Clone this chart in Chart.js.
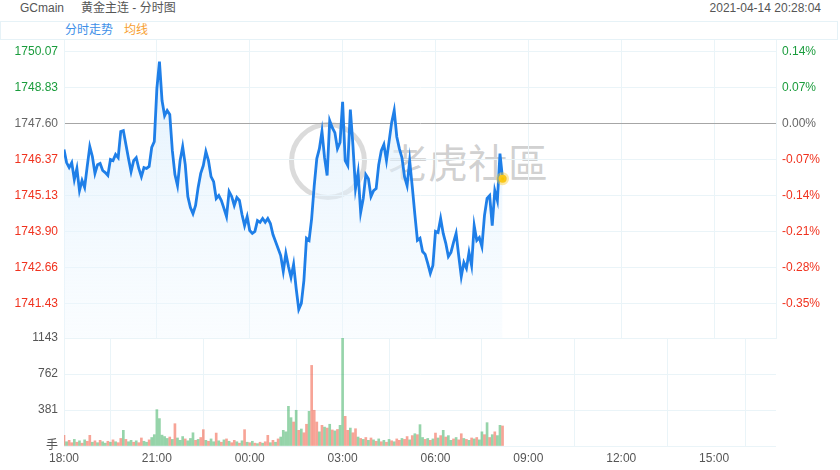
<!DOCTYPE html>
<html lang="zh">
<head>
<meta charset="UTF-8">
<title>GCmain 分时图</title>
<script src="https://cdn.jsdelivr.net/npm/chart.js@4"></script>
<style>
    body {
        margin: 0;
        background: #fff;
        font-family: 'Liberation Sans', 'Noto Sans CJK SC', sans-serif;
    }

    #wrap {
        position: relative;
        width: 840px;
        height: 470px;
        overflow: hidden;
    }

    .txt {
        position: absolute;
        font-size: 12px;
        color: #555;
        white-space: nowrap;
        line-height: 14px;
    }

    #tabs {
        position: absolute;
        left: 0;
        top: 21px;
        width: 836px;
        height: 17px;
        border: 1px solid #e6f2f7;
    }

    #logo {
        position: absolute;
        left: 289px;
        top: 122px;
        width: 68px;
        height: 68px;
        border: 5px solid rgba(170, 170, 170, 0.42);
        border-radius: 50%;
    }

    #wm {
        position: absolute;
        left: 388px;
        top: 141px;
        font-size: 40px;
        line-height: 40px;
        color: rgba(150, 150, 150, 0.45);
        font-family: 'Noto Sans CJK TC', 'Noto Sans CJK SC', sans-serif;
        white-space: nowrap;
    }

    canvas {
        position: absolute;
        left: 0;
        top: 0;
    }
</style>
</head>
<body>
<div id="wrap">
    <div id="logo"></div>
    <div id="wm">老虎社區</div>
    <div class="txt" style="left:20px;top:1px;">GCmain</div>
    <div class="txt" style="left:81px;top:1px;">黄金主连 - 分时图</div>
    <div class="txt" style="right:19px;top:1px;">2021-04-14 20:28:04</div>
    <div id="tabs"></div>
    <div class="txt" style="left:65px;top:23px;color:#3d8fe8;">分时走势</div>
    <div class="txt" style="left:124px;top:23px;color:#f7a030;">均线</div>
    <canvas id="priceChart" width="840" height="470"></canvas>
    <canvas id="volChart" width="840" height="470"></canvas>
</div>

<script>
    // 5 minute samples from 18:00
    const stepMin = 5;
    const prevClose = 1747.60;

    const closes = [
        1746.71, 1746.26, 1746.09, 1746.26, 1745.68, 1746.06, 1745.30, 1745.65, 1745.41, 1746.13,
        1746.81, 1746.47, 1745.89, 1746.19, 1746.23, 1745.99, 1745.92, 1745.82, 1746.37, 1746.33,
        1746.54, 1746.43, 1747.33, 1747.36, 1746.88, 1746.40, 1745.95, 1746.33, 1746.43, 1746.06,
        1745.78, 1746.09, 1746.06, 1746.13, 1746.78, 1746.98, 1748.80, 1749.73, 1748.39, 1747.87,
        1748.05, 1747.91, 1746.67, 1745.85, 1745.47, 1746.33, 1746.81, 1746.19, 1745.10, 1744.72,
        1744.51, 1744.79, 1745.41, 1745.89, 1746.16, 1746.64, 1746.33, 1745.78, 1745.61, 1745.03,
        1745.13, 1744.96, 1744.69, 1744.41, 1745.27, 1745.10, 1744.79, 1745.06, 1744.96, 1744.48,
        1744.10, 1744.41, 1743.93, 1743.83, 1743.90, 1744.27, 1744.21, 1744.34, 1744.21, 1744.34,
        1744.17, 1743.79, 1743.55, 1743.31, 1743.07, 1742.53, 1743.14, 1742.70, 1742.32, 1742.77,
        1741.94, 1741.22, 1741.43, 1742.22, 1743.66, 1743.59, 1744.34, 1745.47, 1746.40, 1746.74,
        1747.33, 1746.43, 1745.82, 1747.70, 1747.46, 1747.29, 1746.74, 1746.95, 1748.35, 1746.33,
        1746.16, 1748.08, 1746.85, 1745.37, 1745.92, 1744.55, 1745.03, 1745.85, 1745.71, 1745.10,
        1745.30, 1745.37, 1746.19, 1746.67, 1746.88, 1746.33, 1746.98, 1747.63, 1748.05, 1747.15,
        1746.74, 1746.43, 1745.78, 1745.47, 1746.33, 1745.44, 1744.48, 1743.59, 1743.66, 1743.21,
        1743.11, 1742.80, 1742.46, 1742.73, 1743.90, 1743.86, 1744.34, 1743.83, 1743.49, 1743.04,
        1743.18, 1743.52, 1743.83, 1743.07, 1742.35, 1742.83, 1742.63, 1743.18, 1742.73, 1744.10,
        1743.59, 1743.69, 1743.38, 1744.45, 1745.03, 1745.13, 1744.10, 1745.30, 1744.96, 1746.57,
        1745.71
    ];

    const volumes = [
        113, 45, 60, 35, 70, 40, 55, 30, 65, 50,
        113, 40, 55, 35, 60, 45, 30, 50, 40, 65,
        45, 35, 80, 166, 70, 45, 60, 40, 55, 35,
        85, 50, 40, 65, 90, 120, 385, 290, 115, 100,
        80, 95, 70, 236, 85, 60, 100, 75, 55, 80,
        140, 60, 70, 90, 173, 60, 50, 75, 45, 137,
        55, 40, 65, 75, 50, 35, 60, 45, 30, 55,
        173, 40, 35, 50, 30, 25, 40, 30, 45, 113,
        35, 60, 40, 75, 95, 166, 150, 420, 300, 254,
        378, 166, 180, 140, 230, 367, 853, 378, 254, 150,
        219, 200, 190, 230, 170, 160, 175, 219, 1143, 314,
        166, 190, 140, 183, 95, 80, 70, 90, 60, 85,
        65, 50, 75, 45, 60, 40, 70, 55, 45, 75,
        60, 80, 70, 100, 65, 110, 130, 120, 226, 90,
        70, 80, 60, 75, 137, 85, 110, 166, 95, 110,
        60, 75, 90, 65, 130, 80, 70, 60, 85, 75,
        90, 65, 150, 120, 247, 90, 120, 150, 110, 219,
        212
    ];

    // r = up bar, g = down bar
    const volSide = (
        'rgrrgrgrgr' + 'rgrgrggrgr' + 'grrgrggrgr' + 'rggrgggggg' + 'grgrgggrgg' +
        'grgrrgrggr' + 'grgrgrrgrg' + 'rgrgrgrgrr' + 'grgrgggggr' + 'grgrrgrrrg' +
        'rgrgrgrggr' + 'rgrrgrgrgr' + 'grgrgrgrgr' + 'rgrrgrgrgg' + 'rgrgrgrgrg' +
        'grgrrgrgrg' + 'rggrgrgrgg' + 'r'
    ).split('');

    const priceTicks = [1750.07, 1748.83, 1747.60, 1746.37, 1745.13, 1743.90, 1742.66, 1741.43];
    const pctLabels = ['0.14%', '0.07%', '0.00%', '-0.07%', '-0.14%', '-0.21%', '-0.28%', '-0.35%'];
    const volTicks = [1143, 762, 381, 0];
    const volLabels = ['1143', '762', '381', '手'];
    const timeTicks = [0, 180, 360, 540, 720, 900, 1080, 1260, 1380];
    const timeLabels = ['18:00', '21:00', '00:00', '03:00', '06:00', '09:00', '12:00', '15:00', ''];

    const gridColor = '#eaf4f8';
    const upColor = '#f0321e';
    const downColor = '#1a9c3c';

    Chart.defaults.font.family = "'Liberation Sans', 'Noto Sans CJK SC', sans-serif";
    Chart.defaults.font.size = 12;
    Chart.defaults.animation = false;

    function priceColor(v) {
        if (Math.abs(v - prevClose) < 0.005) return '#666';
        return v > prevClose ? downColor : upColor;
    }

    const lastIdx = closes.length - 1;
    const priceData = closes.map((c, i) => ({ x: i * stepMin, y: c }));
    const volData = volumes.map((v, i) => ({ x: i * stepMin, y: v }));

    const xBase = {
        type: 'linear',
        min: 0,
        max: 1380,
        afterBuildTicks: s => { s.ticks = timeTicks.map(v => ({ value: v })); },
        grid: { color: gridColor, drawTicks: false },
        border: { display: false }
    };

    new Chart(document.getElementById('priceChart'), {
        type: 'line',
        data: {
            datasets: [{
                data: priceData,
                borderColor: '#1f7fe8',
                borderWidth: 2.8,
                tension: 0,
                fill: 'start',
                backgroundColor: ctx => {
                    const a = ctx.chart.chartArea;
                    if (!a) return 'rgba(225,240,252,0.6)';
                    const g = ctx.chart.ctx.createLinearGradient(0, a.top, 0, a.bottom);
                    g.addColorStop(0, 'rgba(214,236,252,0.75)');
                    g.addColorStop(1, 'rgba(240,248,255,0.35)');
                    return g;
                },
                pointRadius: ctx => ctx.dataIndex === lastIdx ? 4 : 0,
                pointBackgroundColor: '#f8c400',
                pointBorderColor: 'rgba(250,205,50,0.45)',
                pointBorderWidth: 5
            }]
        },
        options: {
            responsive: false,
            devicePixelRatio: 1,
            layout: { padding: { top: 40, bottom: 132 } },
            plugins: { legend: { display: false }, tooltip: { enabled: false } },
            scales: {
                x: {
                    ...xBase,
                    ticks: { display: false },
                    afterFit: s => { s.height = 0; }
                },
                y: {
                    position: 'left',
                    min: 1740.24,
                    max: 1750.47,
                    afterBuildTicks: s => { s.ticks = priceTicks.map(v => ({ value: v })); },
                    afterFit: s => { s.width = 64; },
                    grid: {
                        drawTicks: false,
                        color: ctx => ctx.tick && Math.abs(ctx.tick.value - prevClose) < 0.005 ? '#a6a6a6' : gridColor
                    },
                    border: { color: gridColor },
                    ticks: {
                        padding: 6,
                        color: ctx => priceColor(ctx.tick.value),
                        callback: v => v.toFixed(2)
                    }
                },
                yr: {
                    position: 'right',
                    min: 1740.24,
                    max: 1750.47,
                    afterBuildTicks: s => { s.ticks = priceTicks.map(v => ({ value: v })); },
                    afterFit: s => { s.width = 64; },
                    grid: { display: false, drawTicks: false },
                    border: { color: gridColor },
                    ticks: {
                        padding: 6,
                        color: ctx => priceColor(ctx.tick.value),
                        callback: v => pctLabels[priceTicks.indexOf(v)]
                    }
                }
            }
        }
    });

    new Chart(document.getElementById('volChart'), {
        type: 'bar',
        data: {
            datasets: [{
                data: volData,
                barThickness: 2,
                backgroundColor: ctx => volSide[ctx.dataIndex] === 'r'
                    ? 'rgba(240,90,65,0.55)'
                    : 'rgba(45,170,85,0.5)'
            }]
        },
        options: {
            responsive: false,
            devicePixelRatio: 1,
            layout: { padding: { top: 338, right: 64 } },
            plugins: { legend: { display: false }, tooltip: { enabled: false } },
            scales: {
                x: {
                    ...xBase,
                    offset: false,
                    ticks: {
                        padding: 5,
                        color: '#555',
                        maxRotation: 0,
                        autoSkip: false,
                        callback: v => timeLabels[timeTicks.indexOf(v)]
                    },
                    afterFit: s => { s.height = 24; }
                },
                y: {
                    position: 'left',
                    min: 0,
                    max: 1143,
                    afterBuildTicks: s => { s.ticks = volTicks.map(v => ({ value: v })); },
                    afterFit: s => { s.width = 64; },
                    grid: { color: gridColor, drawTicks: false },
                    border: { color: gridColor },
                    ticks: {
                        padding: 6,
                        color: '#555',
                        callback: v => volLabels[volTicks.indexOf(v)]
                    }
                }
            }
        }
    });
</script>
</body>
</html>
